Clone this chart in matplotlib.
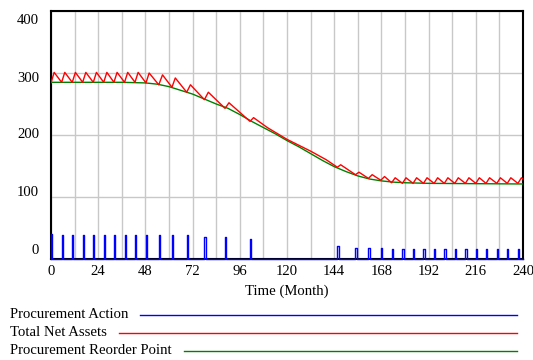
import matplotlib
matplotlib.use('Agg')
import matplotlib.pyplot as plt

plt.rcParams['font.family'] = ['Liberation Serif', 'DejaVu Serif']

# procurement pulses (time, height)
proc_t = [0, 5.4, 10.8, 16.1, 21.5, 26.8, 32.0, 37.4, 42.7, 48.3, 54.8, 61.5,
          69.0, 78.0, 88.5, 101.2,
          145.6, 154.8, 161.4, 167.7, 173.2, 178.7, 184.1, 189.4, 194.8, 200.0,
          205.3, 210.7, 216.0, 221.2, 226.7, 232.0, 237.4]
proc_h = [40, 39, 39, 39, 39, 39, 39, 39, 39, 39, 39, 39,
          38, 36, 35, 32,
          21, 18, 17, 17, 16, 16, 16, 16, 16, 16,
          16, 16, 16, 16, 16, 16, 16]

# total net assets (vertices of the sawtooth)
assets_t = [0, 1.6, 5.4, 7.0, 10.8, 12.4, 16.1, 17.7, 21.5, 23.1, 26.8, 28.4,
            32.0, 33.6, 37.4, 39.0, 42.7, 44.3, 48.3, 49.9, 54.8, 56.7, 61.5, 63.2,
            69.0, 70.9, 78.0, 80.0, 88.5, 90.5, 101.2, 103.0, 110, 120, 132, 140,
            145.6, 147.3, 154.8, 156.6, 161.4, 163.3, 167.7, 169.6, 173.2, 175.0,
            178.7, 180.5, 184.1, 185.9, 189.4, 191.2, 194.8, 196.6, 200.0, 201.8,
            205.3, 207.1, 210.7, 212.5, 216.0, 217.8, 221.2, 223.0, 226.7, 228.5,
            232.0, 233.8, 237.4, 239.2, 240]
assets_v = [284, 301, 285, 301, 285, 301, 285, 301, 285, 301, 285, 301,
            285, 301, 285, 301, 285, 301, 284, 300, 281, 297, 277, 292,
            269, 281, 257, 269, 243, 252, 222, 228, 212, 193, 174, 160,
            148, 152, 136, 140, 130, 136, 127, 133, 123, 131,
            122, 131, 122, 131, 122, 131, 122, 131, 122, 131,
            122, 131, 122, 131, 122, 131, 122, 131, 122, 131,
            122, 131, 122, 131, 129]

# procurement reorder point
reorder_t = [0, 12, 24, 36, 48, 54, 60, 66, 72, 78, 84, 90, 96, 102, 108, 114,
             120, 126, 132, 138, 144, 150, 156, 162, 168, 174, 180, 192, 240]
reorder_v = [285, 285, 285, 285, 284, 282, 278, 272, 266, 258, 250, 243, 233,
             222, 212, 202, 191, 181, 170, 159, 149, 141, 134, 129, 126, 124,
             123, 122, 121]

x_ticks = list(range(0, 241, 24))
y_ticks = [0, 100, 200, 300, 400]
# the y labels are squeezed inward a little, as in the original tool (pixels)
y_label_shift = [9, 4, 0, -6, -9]

blue = '#0000ff'
red = '#ff0000'
green = '#008000'
fs = 10.6

fig = plt.figure(figsize=(5.33, 3.6), dpi=100)
ax = fig.add_axes([51 / 533, 1 - 259 / 360, 472 / 533, 248 / 360])

# pulse train for procurement action
pw = 0.6
px, py = [0], [0]
for t, h in zip(proc_t, proc_h):
    px += [t, t, t + pw, t + pw]
    py += [0, h, h, 0]
px.append(240)
py.append(0)

ax.plot(reorder_t, reorder_v, color=green, lw=1.0, zorder=3)
ax.plot(assets_t, assets_v, color=red, lw=1.0, zorder=4)
ax.plot(px, py, color=blue, lw=1.0, zorder=5, clip_on=False)

ax.set_xlim(0, 240)
ax.set_ylim(0, 400)
ax.set_xticks(x_ticks)
ax.set_xticks(range(0, 241, 12), minor=True)
ax.set_yticks(y_ticks)
ax.set_yticklabels([])
ax.grid(True, which='both', axis='x', color='#c8c8c8', lw=1.0)
ax.grid(True, which='major', axis='y', color='#c8c8c8', lw=1.0)
ax.set_axisbelow(True)
ax.tick_params(which='both', length=0, labelsize=fs, pad=4)
for s in ax.spines.values():
    s.set_linewidth(1.5)
    s.set_color('black')
ax.set_xlabel('Time (Month)', fontsize=fs, labelpad=5)

for v, sh in zip(y_ticks, y_label_shift):
    ax.annotate(str(v), xy=(0, v), xycoords=('axes fraction', 'data'),
                xytext=(-12 * 0.72, sh * 0.72), textcoords='offset points',
                ha='right', va='center', fontsize=fs)

# legend below the chart
labels = ['Procurement Action', 'Total Net Assets', 'Procurement Reorder Point']
colors = [blue, red, green]
rows_y = [315, 333, 351]
fig.canvas.draw()
rend = fig.canvas.get_renderer()
for lab, col, yy in zip(labels, colors, rows_y):
    yf = 1 - yy / 360
    tx = fig.text(10 / 533, yf, lab, fontsize=fs, ha='left', va='center')
    bb = tx.get_window_extent(rend)
    x0 = (bb.x1 + 12) / 533
    fig.add_artist(plt.Line2D([x0, 517 / 533], [yf, yf], color=col, lw=1.0))

fig.savefig('out.png', dpi=100)
